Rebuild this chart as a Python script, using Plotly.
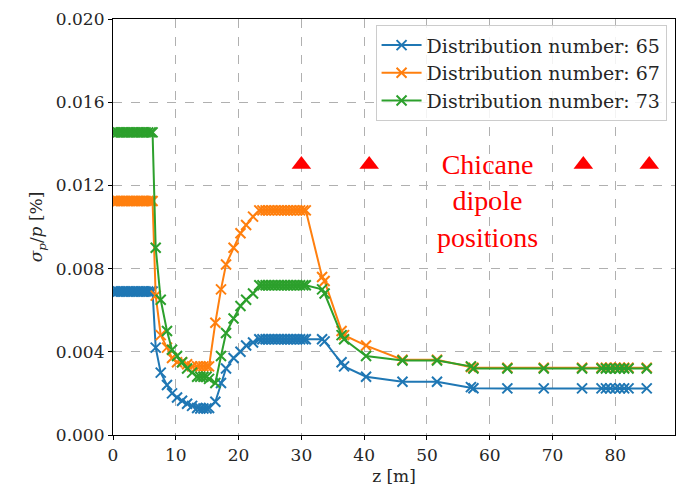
import plotly.graph_objects as go

# Longitudinal positions along the beamline [m]
z = [0.0, 0.4, 0.8, 1.2, 1.6, 2.0, 2.4, 2.8, 3.2, 3.6, 4.0, 4.4, 4.8, 5.2, 5.6, 6.0,
     6.3, 6.8, 7.6, 8.6, 9.4, 10.2, 11.0, 11.8, 12.6, 13.4, 13.9, 14.4, 14.9, 15.3,
     16.3, 17.2, 18.0, 19.2, 20.3, 21.2, 22.3,
     23.3, 23.8, 24.3, 24.8, 25.3, 25.8, 26.3, 26.8, 27.3, 27.8, 28.3, 28.8, 29.3, 29.8, 30.3, 30.7,
     33.3, 33.7, 36.4, 36.8, 40.3, 46.1, 51.6, 57.0, 57.4, 62.8, 68.6, 74.7,
     77.8, 78.5, 79.2, 80.0, 80.7, 81.4, 82.1, 85.0]

# Relative momentum spread sigma_p/p [%] for each distribution
dist65 = [0.0069] * 16 + [
    0.0069, 0.0042, 0.0030, 0.0024, 0.0020, 0.0018, 0.00165, 0.0015, 0.0014, 0.0013,
    0.00127, 0.00127, 0.00127, 0.0013,
    0.0016, 0.0025, 0.0032, 0.0037, 0.0040, 0.0043, 0.00445,
    0.0046, 0.0046, 0.0046, 0.0046, 0.0046, 0.0046, 0.0046, 0.0046, 0.0046, 0.0046,
    0.0046, 0.0046, 0.0046, 0.0046, 0.0046, 0.0046,
    0.0046, 0.0045, 0.0035, 0.0033, 0.0028, 0.00256, 0.00256, 0.0023, 0.00225,
    0.00224, 0.00224, 0.00224,
    0.00224, 0.00224, 0.00224, 0.00224, 0.00224, 0.00224, 0.00224, 0.00224]

dist67 = [0.01125] * 16 + [
    0.01125, 0.0067, 0.0048, 0.0042, 0.0037, 0.0035, 0.0035, 0.0034, 0.0033, 0.0033,
    0.0033, 0.0033, 0.0033, 0.0033,
    0.0054, 0.0070, 0.0082, 0.0090, 0.0097, 0.0101, 0.0105,
    0.0108, 0.0108, 0.0108, 0.0108, 0.0108, 0.0108, 0.0108, 0.0108, 0.0108, 0.0108,
    0.0108, 0.0108, 0.0108, 0.0108, 0.0108, 0.0108,
    0.0076, 0.0074, 0.0050, 0.0048, 0.0043, 0.00362, 0.00362, 0.00327, 0.00323,
    0.00323, 0.00323, 0.00323,
    0.00323, 0.00323, 0.00323, 0.00323, 0.00323, 0.00323, 0.00323, 0.00323]

dist73 = [0.01455] * 16 + [
    0.01455, 0.0090, 0.0065, 0.0050, 0.0041, 0.0038, 0.0035, 0.0032, 0.0030, 0.0028,
    0.0028, 0.0028, 0.0028, 0.0027,
    0.0025, 0.0038, 0.0049, 0.0056, 0.0062, 0.0065, 0.0068,
    0.0072, 0.0072, 0.0072, 0.0072, 0.0072, 0.0072, 0.0072, 0.0072, 0.0072, 0.0072,
    0.0072, 0.0072, 0.0072, 0.0072, 0.0072, 0.0072,
    0.0070, 0.0068, 0.0048, 0.0046, 0.0038, 0.00358, 0.00358, 0.0033, 0.0032,
    0.0032, 0.0032, 0.0032,
    0.0032, 0.0032, 0.0032, 0.0032, 0.0032, 0.0032, 0.0032, 0.0032]

series_names = ["Distribution number: 65", "Distribution number: 67", "Distribution number: 73"]
series_colors = ["#1f77b4", "#ff7f0e", "#2ca02c"]

# Chicane dipole locations
dipole_z = [30.0, 40.8, 74.9, 85.4]
dipole_level = [0.013, 0.013, 0.013, 0.013]

y_ticks = [0.0, 0.004, 0.008, 0.012, 0.016, 0.020]
x_ticks = [0, 10, 20, 30, 40, 50, 60, 70, 80]

fig = go.Figure()
for name, values, color in zip(series_names, [dist65, dist67, dist73], series_colors):
    fig.add_trace(go.Scatter(
        x=z, y=values, name=name, mode="lines+markers",
        line=dict(color=color, width=2),
        marker=dict(symbol="x-thin", size=10, line=dict(color=color, width=2), color=color),
    ))

fig.add_trace(go.Scatter(
    x=dipole_z, y=dipole_level, mode="markers", showlegend=False,
    marker=dict(symbol="triangle-up", size=17, color="red"),
))

fig.add_annotation(
    x=59.7, y=0.01127, xref="x", yref="y",
    text="Chicane<br>dipole<br>positions", showarrow=False,
    font=dict(family="Liberation Serif", size=28, color="red"),
    align="center",
)

axis_common = dict(
    showline=True, linecolor="black", linewidth=1.2, mirror=True,
    ticks="outside", ticklen=4, tickcolor="black",
    showgrid=True, gridcolor="#b0b0b0", griddash="dash", gridwidth=1,
    zeroline=False,
    tickfont=dict(family="DejaVu Serif", size=17, color="#262626"),
)

fig.update_xaxes(
    range=[0, 89.5], tickvals=x_ticks,
    title=dict(text="z [m]", font=dict(family="DejaVu Serif", size=17, color="#262626"), standoff=6),
    **axis_common,
)
fig.update_yaxes(
    range=[0, 0.020], tickvals=y_ticks, tickformat=".3f",
    title=dict(text="<i>σ<sub>p</sub></i>/<i>p</i> [%]",
               font=dict(family="DejaVu Serif", size=17, color="#262626"), standoff=8),
    **axis_common,
)

fig.update_layout(
    width=685, height=491,
    margin=dict(l=113, r=9, t=17, b=55),
    plot_bgcolor="white", paper_bgcolor="white",
    legend=dict(
        x=0.985, y=0.985, xanchor="right", yanchor="top",
        bgcolor="rgba(255,255,255,0.85)", bordercolor="#cccccc", borderwidth=1,
        font=dict(family="DejaVu Serif", size=19, color="#262626"),
        tracegroupgap=0, itemwidth=40,
    ),
)

fig.write_html("out.html")
